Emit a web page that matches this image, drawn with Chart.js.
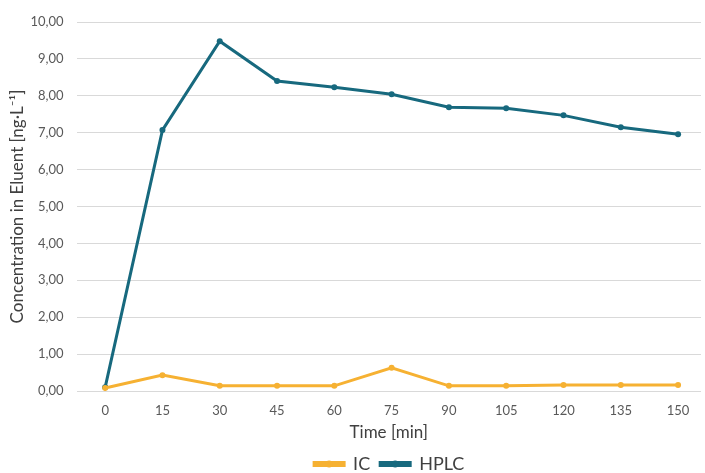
<!DOCTYPE html>
<html lang="en">
<head>
    <meta charset="UTF-8">
    <title>Concentration in Eluent</title>
    <script src="https://cdn.jsdelivr.net/npm/chart.js"></script>
    <style>
        body { margin: 0; padding: 0; background: #ffffff; }
        #wrap { width: 705px; height: 473px; }
    </style>
</head>
<body>
    <div id="wrap"><canvas id="chart"></canvas></div>
    <script>
        // Data
        const times = [0, 15, 30, 45, 60, 75, 90, 105, 120, 135, 150];
        const icValues = [0.08, 0.43, 0.14, 0.14, 0.14, 0.63, 0.14, 0.14, 0.16, 0.16, 0.16];
        const hplcValues = [0.10, 7.07, 9.48, 8.40, 8.23, 8.04, 7.69, 7.66, 7.47, 7.15, 6.96];

        const icColor = '#f6b132';
        const hplcColor = '#17697e';

        const toPoints = vals => vals.map((v, i) => ({ x: times[i], y: v }));

        // center the legend under the plot area instead of the whole canvas
        const legendShift = {
            id: 'legendShift',
            afterLayout(chart) {
                if (chart.legend) chart.legend.left += chart.chartArea.left - 3;
            }
        };

        // dot in the middle of each legend line, like the Excel legend
        const legendDots = {
            id: 'legendDots',
            afterDraw(chart) {
                const lg = chart.legend;
                if (!lg || !lg.legendHitBoxes) return;
                const ctx = chart.ctx;
                lg.legendHitBoxes.forEach((box, i) => {
                    const ds = chart.data.datasets[i];
                    ctx.save();
                    ctx.fillStyle = ds.borderColor;
                    ctx.beginPath();
                    ctx.arc(box.left + lg.options.labels.boxWidth / 2, box.top + box.height / 2, 3.5, 0, Math.PI * 2);
                    ctx.fill();
                    ctx.restore();
                });
            }
        };

        new Chart(document.getElementById('chart'), {
            type: 'line',
            data: {
                datasets: [
                    {
                        label: 'IC',
                        data: toPoints(icValues),
                        borderColor: icColor,
                        backgroundColor: icColor,
                        borderWidth: 3,
                        pointRadius: 3,
                        pointBackgroundColor: icColor,
                        pointBorderWidth: 0,
                        tension: 0
                    },
                    {
                        label: 'HPLC',
                        data: toPoints(hplcValues),
                        borderColor: hplcColor,
                        backgroundColor: hplcColor,
                        borderWidth: 3,
                        pointRadius: 3,
                        pointBackgroundColor: hplcColor,
                        pointBorderWidth: 0,
                        tension: 0
                    }
                ]
            },
            options: {
                responsive: true,
                maintainAspectRatio: false,
                animation: false,
                // legend adds 10px of empty space under itself, pull it back
                layout: { padding: { top: 22, right: 0, left: 0, bottom: -10 } },
                plugins: {
                    tooltip: { enabled: false },
                    legend: {
                        position: 'bottom',
                        labels: {
                            boxWidth: 30,
                            boxHeight: 3,
                            padding: 10,
                            color: '#404040',
                            font: { family: 'Lato', size: 18 }
                        }
                    }
                },
                scales: {
                    x: {
                        type: 'linear',
                        min: -7.5,
                        max: 156,
                        afterBuildTicks: scale => { scale.ticks = times.map(v => ({ value: v })); },
                        grid: { display: false },
                        border: { display: false },
                        ticks: {
                            color: '#595959',
                            font: { family: 'Lato', size: 13 },
                            padding: 4,
                            maxRotation: 0
                        },
                        title: {
                            display: true,
                            text: 'Time [min]',
                            color: '#404040',
                            font: { family: 'Lato', size: 17 },
                            padding: { top: 0, bottom: 2 }
                        }
                    },
                    y: {
                        min: 0,
                        max: 10,
                        ticks: {
                            stepSize: 1,
                            color: '#595959',
                            font: { family: 'Lato', size: 13 },
                            padding: 13,
                            callback: v => v.toFixed(2).replace('.', ',')
                        },
                        grid: { color: '#d9d9d9', lineWidth: 1, drawTicks: false },
                        border: { display: false },
                        title: {
                            display: true,
                            text: 'Concentration in Eluent [ng·L⁻¹]',
                            color: '#404040',
                            font: { family: 'Lato', size: 17 },
                            padding: { top: 7, bottom: -10 }
                        }
                    }
                }
            },
            plugins: [legendShift, legendDots]
        });
    </script>
</body>
</html>
